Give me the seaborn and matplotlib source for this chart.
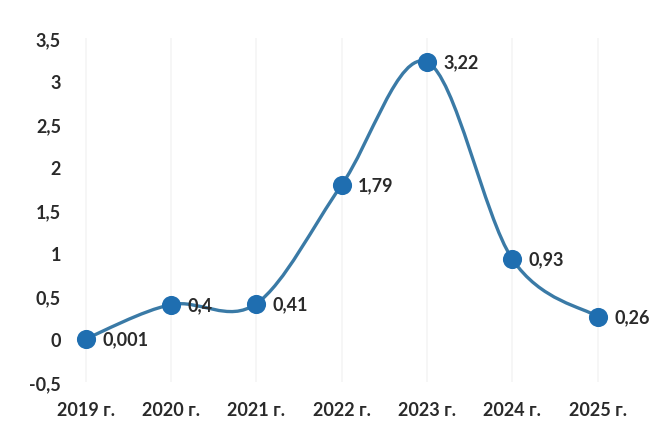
import numpy as np
import pandas as pd
import matplotlib
matplotlib.use("Agg")
import matplotlib.pyplot as plt
from matplotlib.path import Path
from matplotlib.patches import PathPatch
import seaborn as sns

categories = ["2019 г.", "2020 г.", "2021 г.", "2022 г.", "2023 г.", "2024 г.", "2025 г."]
values = [0.001, 0.4, 0.41, 1.79, 3.22, 0.93, 0.26]
value_labels = ["0,001", "0,4", "0,41", "1,79", "3,22", "0,93", "0,26"]
y_ticks = [-0.5, 0, 0.5, 1, 1.5, 2, 2.5, 3, 3.5]
y_tick_labels = ["-0,5", "0", "0,5", "1", "1,5", "2", "2,5", "3", "3,5"]

sns.set_theme(style="white")
plt.rcParams['font.family'] = ['Lato', 'DejaVu Sans']

df = pd.DataFrame({"x": np.arange(len(categories)), "y": values})

fig = plt.figure(figsize=(6.58, 4.27), dpi=100)
ax = fig.add_axes([0.099, 0.103, 0.874, 0.806])

# faint vertical gridlines
for xi in df["x"]:
    ax.axvline(xi, color="#f5f5f5", lw=1.2, zorder=0)

# smooth curve (Catmull-Rom style Bezier, like spreadsheet smoothing)
pts = df[["x", "y"]].to_numpy()
n = len(pts)
verts = [tuple(pts[0])]
codes = [Path.MOVETO]
for i in range(n - 1):
    p0 = pts[i - 1] if i > 0 else pts[i]
    p1 = pts[i]
    p2 = pts[i + 1]
    p3 = pts[i + 2] if i + 2 < n else pts[i + 1]
    c1 = p1 + (p2 - p0) / 6.0
    c2 = p2 - (p3 - p1) / 6.0
    verts += [tuple(c1), tuple(c2), tuple(p2)]
    codes += [Path.CURVE4] * 3
ax.add_patch(PathPatch(Path(verts, codes), facecolor="none", edgecolor="#3a7aa6",
                       lw=2.4, zorder=2))

sns.scatterplot(data=df, x="x", y="y", ax=ax, s=190, color="#1f6eb0",
                edgecolor="#1f6eb0", linewidth=0, zorder=3, legend=False)

for xi, yi, lab in zip(df["x"], df["y"], value_labels):
    ax.annotate(lab, (xi, yi), xytext=(12, 0), textcoords="offset points",
                ha="left", va="center", fontsize=13, fontweight="bold", color="#2a2a2a")

ax.set_xlim(-0.24, 6.5)
ax.set_ylim(-0.5, 3.5)
ax.set_yticks(y_ticks)
ax.set_yticklabels(y_tick_labels)
ax.set_xticks(df["x"])
ax.set_xticklabels(categories)
ax.tick_params(axis="y", labelsize=13, colors="#2a2a2a", length=0, pad=3)
ax.tick_params(axis="x", labelsize=13, colors="#2a2a2a", length=0, pad=14)
for lab in ax.get_xticklabels() + ax.get_yticklabels():
    lab.set_fontweight("bold")
ax.set_xlabel("")
ax.set_ylabel("")
for s in ax.spines.values():
    s.set_visible(False)

fig.savefig("out.png", dpi=100)
